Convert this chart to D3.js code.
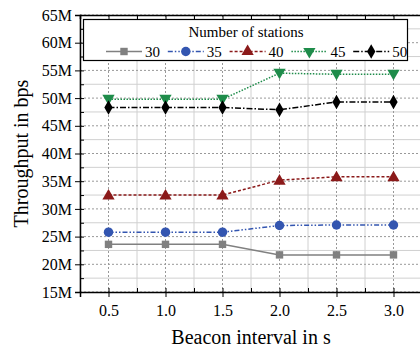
<!DOCTYPE html>
<html><head><meta charset="utf-8">
<script src="https://cdn.jsdelivr.net/npm/d3@7"></script>
<style>html,body{margin:0;padding:0;background:#fff;}svg{display:block;font-family:"Liberation Serif","Times New Roman",serif;}</style>
</head><body>
<svg id="c" width="420" height="351"></svg>
<script>
const intervals = [0.5, 1.0, 1.5, 2.0, 2.5, 3.0];
const xTickLabels = ["0.5","1.0","1.5","2.0","2.5","3.0"];
const yTicks = [15,20,25,30,35,40,45,50,55,60,65];
const stationNames = ["30","35","40","45","50"];
const s30 = [23.6, 23.6, 23.6, 21.7, 21.7, 21.7];
const s35 = [25.8, 25.8, 25.8, 27.0, 27.1, 27.1];
const s40 = [32.5, 32.5, 32.5, 35.2, 35.8, 35.8];
const s45 = [49.8, 49.8, 49.8, 54.5, 54.3, 54.3];
const s50 = [48.3, 48.3, 48.3, 47.9, 49.3, 49.3];
const seriesValues = [s30, s35, s40, s45, s50];
const colors = ["#808080", "#3355b0", "#8b1a1a", "#1e8c4a", "#000000"];
const dashes = [null, "5,2,1.5,2,1.5,2", "3,2", "1.5,1.5", "6,2,1.5,2"];
const symbols = [d3.symbolSquare, d3.symbolCircle, d3.symbolTriangle, d3.symbolTriangle, d3.symbolDiamond];
const symSize = [55, 70, 65, 65, 60];
const symRot = [0, 0, 0, 180, 0];
const lineW = [1.5, 1.5, 1.5, 1.5, 1.5];

const svg = d3.select("#c");
const L = 80, R = 422, T = 15, B = 292;
const x = d3.scaleLinear().domain([0.25, 3.25]).range([L, R]);
const y = d3.scaleLinear().domain([15, 65]).range([B, T]);
const minorX = d3.range(0.25, 3.26, 0.25);
const minorY = d3.range(15, 65.01, 2.5);

const g = svg.append("g");
// minor grid
g.selectAll(".mgx").data(minorX.filter(v => Math.abs(v*2 - Math.round(v*2)) > 0.01)).enter().append("line")
  .attr("x1", d => x(d)).attr("x2", d => x(d)).attr("y1", T).attr("y2", B)
  .attr("stroke", "#d0d0d0").attr("stroke-width", 1);
g.selectAll(".mgy").data(minorY.filter(v => Math.abs(v/5 - Math.round(v/5)) > 0.01)).enter().append("line")
  .attr("x1", L).attr("x2", R).attr("y1", d => y(d)).attr("y2", d => y(d))
  .attr("stroke", "#d0d0d0").attr("stroke-width", 1);
// major grid (dotted)
g.selectAll(".gx").data(intervals).enter().append("line")
  .attr("x1", d => x(d)).attr("x2", d => x(d)).attr("y1", T).attr("y2", B)
  .attr("stroke", "#999").attr("stroke-width", 1).attr("stroke-dasharray", "2,2");
g.selectAll(".gy").data(yTicks).enter().append("line")
  .attr("x1", L).attr("x2", R).attr("y1", d => y(d)).attr("y2", d => y(d))
  .attr("stroke", "#999").attr("stroke-width", 1).attr("stroke-dasharray", "2,2");

// axes
const fmtY = d => d + "M";
const yAxis = svg.append("g").attr("transform", `translate(${L},0)`)
  .call(d3.axisLeft(y).tickValues(yTicks).tickFormat(fmtY).tickSize(5).tickPadding(3));
yAxis.select(".domain").attr("stroke-width", 1.5);
yAxis.selectAll("text").attr("font-size", 16).attr("font-family", "Liberation Serif").attr("fill", "#000");
const yMinor = svg.append("g").attr("transform", `translate(${L},0)`)
  .call(d3.axisRight(y).tickValues(minorY).tickFormat("").tickSize(4));
yMinor.select(".domain").remove();

const xAxis = svg.append("g").attr("transform", `translate(0,${B})`)
  .call(d3.axisBottom(x).tickValues(intervals).tickFormat((d, i) => xTickLabels[i]).tickSize(5).tickPadding(8));
xAxis.select(".domain").attr("stroke-width", 1.5);
xAxis.selectAll("text").attr("font-size", 16).attr("font-family", "Liberation Serif").attr("fill", "#000");
const xMinor = svg.append("g").attr("transform", `translate(0,${B})`)
  .call(d3.axisTop(x).tickValues(minorX).tickFormat("").tickSize(4));
xMinor.select(".domain").remove();
const xTop = svg.append("g").attr("transform", `translate(0,${T})`)
  .call(d3.axisBottom(x).tickValues(minorX).tickFormat("").tickSize(4));
xTop.select(".domain").attr("stroke-width", 1.5);

// series
const line = d3.line().x((d, i) => x(intervals[i])).y(d => y(d));
seriesValues.forEach((vals, k) => {
  svg.append("path").datum(vals).attr("d", line).attr("fill", "none")
    .attr("stroke", colors[k]).attr("stroke-width", lineW[k])
    .attr("stroke-dasharray", dashes[k]);
  svg.selectAll(".m" + k).data(vals).enter().append("path")
    .attr("d", d3.symbol().type(symbols[k]).size(symSize[k]))
    .attr("transform", (d, i) => `translate(${x(intervals[i])},${y(d) + (k===2?1:k===3?-1:0)}) rotate(${symRot[k]})`)
    .attr("fill", colors[k]);
});

// legend
const lg = svg.append("g");
lg.append("rect").attr("x", 83.5).attr("y", 19.5).attr("width", 324).attr("height", 41)
  .attr("fill", "#fff").attr("stroke", "#000").attr("stroke-width", 1.2);
lg.append("text").attr("x", 246).attr("y", 37).attr("text-anchor", "middle")
  .attr("font-size", 15).text("Number of stations");
stationNames.forEach((name, k) => {
  const x0 = 106 + k * 61.8;
  const yy = 51.5;
  lg.append("line").attr("x1", x0).attr("x2", x0 + 36).attr("y1", yy).attr("y2", yy)
    .attr("stroke", colors[k]).attr("stroke-width", lineW[k]).attr("stroke-dasharray", dashes[k]);
  lg.append("path").attr("d", d3.symbol().type(symbols[k]).size(symSize[k]))
    .attr("transform", `translate(${x0 + 18},${yy}) rotate(${symRot[k]})`).attr("fill", colors[k]);
  lg.append("text").attr("x", x0 + 39).attr("y", yy + 5.5).attr("font-size", 15).text(name);
});

// axis titles
svg.append("text").attr("x", 251).attr("y", 344).attr("text-anchor", "middle")
  .attr("font-size", 20).text("Beacon interval in s");
svg.append("text").attr("transform", `translate(28,${(T + B) / 2}) rotate(-90)`)
  .attr("text-anchor", "middle").attr("font-size", 20).text("Throughput in bps");
</script>
</body></html>
